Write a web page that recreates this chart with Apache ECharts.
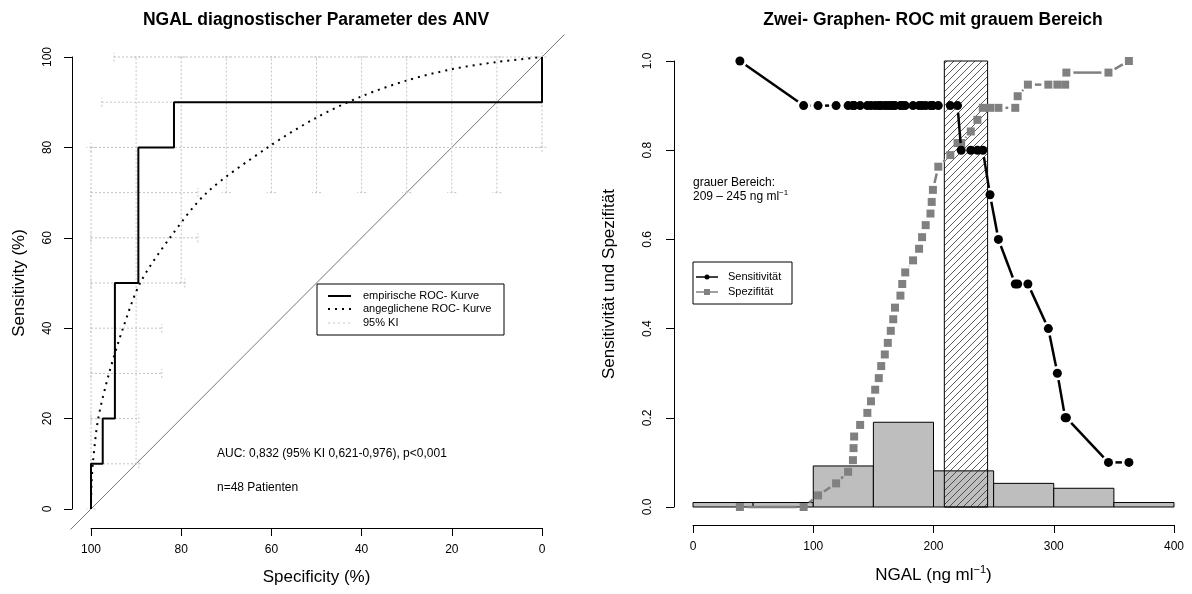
<!DOCTYPE html>
<html>
<head>
<meta charset="utf-8">
<script src="https://cdn.jsdelivr.net/npm/echarts@6/dist/echarts.min.js"></script>
<style>
  html, body { margin: 0; padding: 0; background: #fff; }
  #chart { width: 1192px; height: 594px; }
</style>
</head>
<body>
<div id="chart"></div>
<script>
// ---- left panel: ROC curve (specificity %, sensitivity %) ----
const empSpec = [100, 100, 97.4, 97.4, 94.7, 94.7, 89.5, 89.5, 81.6, 81.6, 0, 0];
const empSens = [0, 10, 10, 20, 20, 50, 50, 80, 80, 90, 90, 100];

const fitSpec = [100, 99.9, 99.6, 98.4, 96, 92.9, 89.1, 82.5, 74.3, 60.8, 50, 40, 30, 20, 10, 0];
const fitSens = [0, 5, 10, 20, 30, 40, 50, 60, 70, 80, 86.6, 91.3, 94.8, 97.3, 98.9, 100];

// 95% CI of sensitivity at given specificities (vertical bars)
const ciSeAtSpec = [100, 90, 80, 70, 60, 50, 40, 30, 20, 10, 0];
const ciSeLow = [0, 10, 50, 70, 70, 70, 70, 70, 70, 70, 80];
const ciSeHigh = [80, 100, 100, 100, 100, 100, 100, 100, 100, 100, 100];
// 95% CI of specificity at given sensitivities (horizontal bars)
const ciSpAtSens = [100, 90, 80, 70, 60, 50, 40, 30, 20, 10];
const ciSpHigh = [94.9, 97.6, 100, 100, 100, 100, 100, 100, 100, 100];
const ciSpLow = [0, 0, 0, 76.3, 76.3, 79.2, 84.3, 84.3, 89.4, 89.4];

// chance diagonal, spanning the whole plot region
const chanceLine = [[104.5, -4.5, -5, 105]];
const leftTicks = [0, 20, 40, 60, 80, 100];

// ---- right panel: sensitivity / specificity vs. NGAL cutoff ----
const cutoffs = [39, 92, 104, 119, 129, 133, 133.5, 134, 139, 145, 148, 151.5, 154.5, 156.5, 159.5,
  162, 164.5, 166.5, 168, 172.5, 174, 176.5, 183, 188, 190.5, 193.5, 197.5, 198.5, 199.5, 204, 214,
  220, 223, 231, 236.5, 241, 247, 254, 268, 270, 278.5, 295.5, 303, 309.5, 310.5, 345.5, 362.5];
const sensVals = [1.0, 0.9, 0.9, 0.9, 0.9, 0.9, 0.9, 0.9, 0.9, 0.9, 0.9, 0.9, 0.9, 0.9, 0.9,
  0.9, 0.9, 0.9, 0.9, 0.9, 0.9, 0.9, 0.9, 0.9, 0.9, 0.9, 0.9, 0.9, 0.9, 0.9, 0.9,
  0.9, 0.8, 0.8, 0.8, 0.8, 0.7, 0.6, 0.5, 0.5, 0.5, 0.4, 0.3, 0.2, 0.2, 0.1, 0.1];
const specVals = [0, 0, 0.026, 0.053, 0.079, 0.105, 0.132, 0.158, 0.184, 0.211, 0.237, 0.263, 0.289, 0.316, 0.342,
  0.368, 0.395, 0.421, 0.447, 0.474, 0.5, 0.526, 0.553, 0.579, 0.605, 0.632, 0.658, 0.684, 0.711, 0.763, 0.789,
  0.816, 0.816, 0.842, 0.868, 0.895, 0.895, 0.895, 0.895, 0.921, 0.947, 0.947, 0.947, 0.947, 0.974, 0.974, 1.0];

const histStart = [0, 50, 100, 150, 200, 250, 300, 350];
const histEnd = [50, 100, 150, 200, 250, 300, 350, 400];
const histHeight = [0.01, 0.01, 0.092, 0.19, 0.081, 0.053, 0.042, 0.01];

const grayZone = [209, 245];
const grayTop = 1.0;
const rightXTicks = [0, 100, 200, 300, 400];
const rightYTicks = [0, 0.2, 0.4, 0.6, 0.8, 1.0];

const FONT = '"Liberation Sans", Arial, Helvetica, sans-serif';

// line segments between consecutive points, shortened near the markers (R type = "b")
function pairs(xs, ys) {
  const out = [];
  for (let i = 0; i < xs.length - 1; i++) out.push([xs[i], ys[i], xs[i + 1], ys[i + 1]]);
  return out;
}

function ciSegments() {
  const segs = [];
  const cap = 1;
  ciSeAtSpec.forEach((sp, i) => {
    segs.push([sp, ciSeLow[i], sp, ciSeHigh[i]]);
    segs.push([sp - cap, ciSeLow[i], sp + cap, ciSeLow[i]]);
    segs.push([sp - cap, ciSeHigh[i], sp + cap, ciSeHigh[i]]);
  });
  ciSpAtSens.forEach((se, i) => {
    segs.push([ciSpHigh[i], se, ciSpLow[i], se]);
    segs.push([ciSpHigh[i], se - cap, ciSpHigh[i], se + cap]);
    segs.push([ciSpLow[i], se - cap, ciSpLow[i], se + cap]);
  });
  return segs;
}

function segRenderer(style, gap) {
  return function (params, api) {
    const p1 = api.coord([api.value(0), api.value(1)]);
    const p2 = api.coord([api.value(2), api.value(3)]);
    let x1 = p1[0], y1 = p1[1], x2 = p2[0], y2 = p2[1];
    if (gap) {
      const dx = x2 - x1, dy = y2 - y1;
      const len = Math.hypot(dx, dy);
      if (len <= 2 * gap) return { type: 'group', children: [] };
      const ux = dx / len, uy = dy / len;
      x1 += ux * gap; y1 += uy * gap;
      x2 -= ux * gap; y2 -= uy * gap;
    }
    return { type: 'line', shape: { x1, y1, x2, y2 }, style: style };
  };
}

// hatch pattern for the grey zone
const hatch = document.createElement('canvas');
hatch.width = 7;
hatch.height = 7;
(function () {
  const c = hatch.getContext('2d');
  c.strokeStyle = '#333';
  c.lineWidth = 0.8;
  c.beginPath();
  c.moveTo(0, 7); c.lineTo(7, 0);
  c.moveTo(-1, 1); c.lineTo(1, -1);
  c.moveTo(6, 8); c.lineTo(8, 6);
  c.stroke();
})();

function axisCommon() {
  return {
    type: 'value',
    splitLine: { show: false },
    axisLine: { show: true, onZero: false, lineStyle: { color: '#000', width: 1 } },
    axisTick: { show: true, length: 8, lineStyle: { color: '#000' } },
    nameLocation: 'middle',
    nameTextStyle: { fontFamily: FONT, fontSize: 17, color: '#000' }
  };
}

const chart = echarts.init(document.getElementById('chart'));

const option = {
  animation: false,
  backgroundColor: '#fff',
  title: [
    {
      text: 'NGAL diagnostischer Parameter des ANV',
      left: 316, top: 11, textAlign: 'center', padding: 0,
      textStyle: { fontFamily: FONT, fontSize: 17.5, fontWeight: 'bold', color: '#000' }
    },
    {
      text: 'Zwei- Graphen- ROC mit grauem Bereich',
      left: 933, top: 11, textAlign: 'center', padding: 0,
      textStyle: { fontFamily: FONT, fontSize: 17.5, fontWeight: 'bold', color: '#000' }
    }
  ],
  grid: [
    { left: 91, top: 57, width: 451, height: 452 },
    { left: 693, top: 61, width: 481, height: 446 }
  ],
  xAxis: [
    Object.assign(axisCommon(), {
      gridIndex: 0, inverse: true, offset: 19,
      min: leftTicks[0], max: leftTicks[leftTicks.length - 1], interval: leftTicks[1] - leftTicks[0],
      axisLabel: { fontFamily: FONT, fontSize: 12, color: '#000', margin: 16 },
      name: 'Specificity (%)', nameGap: 41
    }),
    Object.assign(axisCommon(), {
      gridIndex: 1, offset: 18,
      min: rightXTicks[0], max: rightXTicks[rightXTicks.length - 1], interval: rightXTicks[1] - rightXTicks[0],
      axisLabel: { fontFamily: FONT, fontSize: 12, color: '#000', margin: 16 },
      name: '{n|NGAL (ng ml}{s|−1}{n|)}', nameGap: 39,
      nameTextStyle: {
        fontFamily: FONT, fontSize: 17, color: '#000',
        rich: {
          n: { fontFamily: FONT, fontSize: 17, color: '#000', lineHeight: 22 },
          s: { fontFamily: FONT, fontSize: 11, color: '#000', lineHeight: 11, verticalAlign: 'top' }
        }
      }
    })
  ],
  yAxis: [
    Object.assign(axisCommon(), {
      gridIndex: 0, offset: 19,
      min: leftTicks[0], max: leftTicks[leftTicks.length - 1], interval: leftTicks[1] - leftTicks[0],
      axisLabel: { fontFamily: FONT, fontSize: 12, color: '#000', margin: 18, rotate: 90 },
      name: 'Sensitivity (%)', nameGap: 44
    }),
    Object.assign(axisCommon(), {
      gridIndex: 1, offset: 19,
      min: rightYTicks[0], max: rightYTicks[rightYTicks.length - 1], interval: rightYTicks[1] - rightYTicks[0],
      axisLabel: {
        fontFamily: FONT, fontSize: 12, color: '#000', margin: 20, rotate: 90,
        formatter: (v) => v.toFixed(1)
      },
      name: 'Sensitivität und Spezifität', nameGap: 56
    })
  ],
  series: [
    // ---- left ----
    {
      type: 'custom', xAxisIndex: 0, yAxisIndex: 0, data: chanceLine, clip: false,
      encode: { x: [0, 2], y: [1, 3] }, z: 1,
      renderItem: segRenderer({ stroke: '#777', lineWidth: 1 }, 0)
    },
    {
      type: 'custom', xAxisIndex: 0, yAxisIndex: 0, data: ciSegments(),
      encode: { x: [0, 2], y: [1, 3] }, z: 2,
      renderItem: segRenderer({ stroke: '#c4c4c4', lineWidth: 1, lineDash: [2, 2] }, 0)
    },
    {
      type: 'line', xAxisIndex: 0, yAxisIndex: 0, z: 3,
      data: empSpec.map((s, i) => [s, empSens[i]]),
      symbol: 'none', lineStyle: { color: '#000', width: 2 }
    },
    {
      type: 'line', xAxisIndex: 0, yAxisIndex: 0, z: 4, smooth: 0.3,
      data: fitSpec.map((s, i) => [s, fitSens[i]]),
      symbol: 'none', lineStyle: { color: '#000', width: 2, type: [2, 5] }
    },
    // ---- right ----
    {
      type: 'custom', xAxisIndex: 1, yAxisIndex: 1, z: 1,
      data: histStart.map((s, i) => [s, histEnd[i], histHeight[i]]),
      encode: { x: [0, 1], y: 2 },
      renderItem: function (params, api) {
        const a = api.coord([api.value(0), api.value(2)]);
        const b = api.coord([api.value(1), 0]);
        return {
          type: 'rect',
          shape: { x: a[0], y: a[1], width: b[0] - a[0], height: b[1] - a[1] },
          style: { fill: '#bebebe', stroke: '#000', lineWidth: 1 }
        };
      }
    },
    {
      type: 'custom', xAxisIndex: 1, yAxisIndex: 1, z: 2,
      data: [[grayZone[0], grayZone[1], grayTop]],
      encode: { x: [0, 1], y: 2 },
      renderItem: function (params, api) {
        const a = api.coord([api.value(0), api.value(2)]);
        const b = api.coord([api.value(1), 0]);
        return {
          type: 'rect',
          shape: { x: a[0], y: a[1], width: b[0] - a[0], height: b[1] - a[1] },
          style: { fill: { image: hatch, repeat: 'repeat' }, stroke: '#000', lineWidth: 1 }
        };
      }
    },
    {
      type: 'custom', xAxisIndex: 1, yAxisIndex: 1, z: 3,
      data: pairs(cutoffs, specVals), encode: { x: [0, 2], y: [1, 3] },
      renderItem: segRenderer({ stroke: '#808080', lineWidth: 2.5 }, 7)
    },
    {
      type: 'scatter', xAxisIndex: 1, yAxisIndex: 1, z: 3,
      data: cutoffs.map((c, i) => [c, specVals[i]]),
      symbol: 'rect', symbolSize: 8, itemStyle: { color: '#808080', opacity: 1 }
    },
    {
      type: 'custom', xAxisIndex: 1, yAxisIndex: 1, z: 4,
      data: pairs(cutoffs, sensVals), encode: { x: [0, 2], y: [1, 3] },
      renderItem: segRenderer({ stroke: '#000', lineWidth: 2.5 }, 7)
    },
    {
      type: 'scatter', xAxisIndex: 1, yAxisIndex: 1, z: 4,
      data: cutoffs.map((c, i) => [c, sensVals[i]]),
      symbol: 'circle', symbolSize: 9, itemStyle: { color: '#000', opacity: 1 }
    }
  ],
  graphic: [
    // left legend
    { type: 'rect', shape: { x: 317, y: 284, width: 187, height: 51 }, style: { fill: '#fff', stroke: '#000', lineWidth: 1 }, z: 50 },
    { type: 'line', shape: { x1: 328, y1: 296, x2: 351, y2: 296 }, style: { stroke: '#000', lineWidth: 2 }, z: 51 },
    { type: 'line', shape: { x1: 328, y1: 309, x2: 351, y2: 309 }, style: { stroke: '#000', lineWidth: 2, lineDash: [2, 5] }, z: 51 },
    { type: 'line', shape: { x1: 328, y1: 323, x2: 351, y2: 323 }, style: { stroke: '#c4c4c4', lineWidth: 1, lineDash: [2, 3] }, z: 51 },
    { type: 'text', x: 363, y: 296, z: 51, style: { text: 'empirische ROC- Kurve', font: '11px ' + FONT, fill: '#000', verticalAlign: 'middle' } },
    { type: 'text', x: 363, y: 309, z: 51, style: { text: 'angeglichene ROC- Kurve', font: '11px ' + FONT, fill: '#000', verticalAlign: 'middle' } },
    { type: 'text', x: 363, y: 323, z: 51, style: { text: '95% KI', font: '11px ' + FONT, fill: '#000', verticalAlign: 'middle' } },
    { type: 'text', x: 217, y: 454, z: 51, style: { text: 'AUC: 0,832 (95% KI 0,621-0,976), p<0,001', font: '12px ' + FONT, fill: '#000', verticalAlign: 'middle' } },
    { type: 'text', x: 217, y: 488, z: 51, style: { text: 'n=48 Patienten', font: '12px ' + FONT, fill: '#000', verticalAlign: 'middle' } },
    // right annotations
    { type: 'text', x: 693, y: 183, z: 51, style: { text: 'grauer Bereich:', font: '12px ' + FONT, fill: '#000', verticalAlign: 'middle' } },
    {
      type: 'text', x: 693, y: 197, z: 51,
      style: {
        text: '{n|209 – 245 ng ml}{s|−1}', fill: '#000', verticalAlign: 'middle',
        rich: {
          n: { fontFamily: FONT, fontSize: 12, lineHeight: 16, fill: '#000' },
          s: { fontFamily: FONT, fontSize: 8, lineHeight: 8, verticalAlign: 'top', fill: '#000' }
        }
      }
    },
    // right legend
    { type: 'rect', shape: { x: 693, y: 262, width: 99, height: 42 }, style: { fill: '#fff', stroke: '#000', lineWidth: 1 }, z: 50 },
    { type: 'line', shape: { x1: 696, y1: 277, x2: 718, y2: 277 }, style: { stroke: '#000', lineWidth: 1.5 }, z: 51 },
    { type: 'circle', shape: { cx: 707, cy: 277, r: 2.5 }, style: { fill: '#000' }, z: 52 },
    { type: 'line', shape: { x1: 696, y1: 292, x2: 718, y2: 292 }, style: { stroke: '#808080', lineWidth: 1.5 }, z: 51 },
    { type: 'rect', shape: { x: 704, y: 289, width: 6, height: 6 }, style: { fill: '#808080' }, z: 52 },
    { type: 'text', x: 728, y: 277, z: 51, style: { text: 'Sensitivität', font: '11px ' + FONT, fill: '#000', verticalAlign: 'middle' } },
    { type: 'text', x: 728, y: 292, z: 51, style: { text: 'Spezifität', font: '11px ' + FONT, fill: '#000', verticalAlign: 'middle' } }
  ]
};

chart.setOption(option);
</script>
</body>
</html>
